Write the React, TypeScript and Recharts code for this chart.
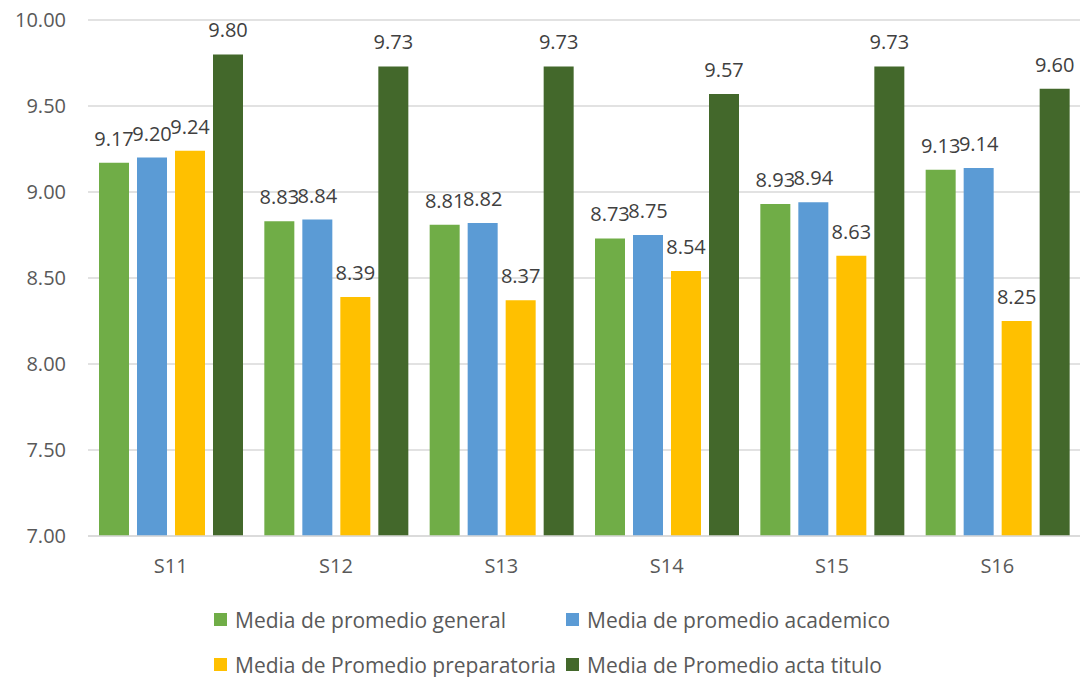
import React from "react";
import { BarChart, Bar, XAxis, YAxis, CartesianGrid, Legend, LabelList } from "recharts";

const categories = ["S11", "S12", "S13", "S14", "S15", "S16"];
const mediaGeneral = [9.17, 8.83, 8.81, 8.73, 8.93, 9.13];
const mediaAcademico = [9.2, 8.84, 8.82, 8.75, 8.94, 9.14];
const mediaPreparatoria = [9.24, 8.39, 8.37, 8.54, 8.63, 8.25];
const mediaActaTitulo = [9.8, 9.73, 9.73, 9.57, 9.73, 9.6];
const yTicks = [7, 7.5, 8, 8.5, 9, 9.5, 10];

const seriesNames = [
  "Media de promedio general",
  "Media de promedio academico",
  "Media de Promedio preparatoria",
  "Media de Promedio acta titulo",
];
const seriesKeys = ["general", "academico", "preparatoria", "acta"];
const colors = ["#70AD47", "#5B9BD5", "#FFC000", "#43682B"];

const data = categories.map((c, i) => ({
  name: c,
  general: mediaGeneral[i],
  academico: mediaAcademico[i],
  preparatoria: mediaPreparatoria[i],
  acta: mediaActaTitulo[i],
}));

const FONT = "'Open Sans', sans-serif";

const fmt = (v: any) => Number(v).toFixed(2);

const LegendContent = () => (
  <div
    style={{
      height: 91,
      boxSizing: "border-box",
      paddingTop: 11,
      paddingLeft: 214,
      display: "grid",
      gridTemplateColumns: "auto auto",
      justifyContent: "start",
      columnGap: 10,
      gridAutoRows: "45px",
      fontFamily: FONT,
      fontSize: 21,
      color: "#595959",
    }}
  >
    {seriesNames.map((n, i) => (
      <div key={n} style={{ display: "flex", alignItems: "center" }}>
        <span style={{ width: 13, height: 13, background: colors[i], marginRight: 8, display: "inline-block", flex: "none" }} />
        <span style={{ whiteSpace: "nowrap" }}>{n}</span>
      </div>
    ))}
  </div>
);

export default function App() {
  return (
    <div style={{ position: "absolute", left: 0, top: 0, width: 1086, height: 677, background: "#fff" }}>
      <BarChart
        width={1086}
        height={677}
        data={data}
        margin={{ top: 20, right: 6, left: 0, bottom: 0 }}
        barCategoryGap={11}
        barGap={8}
      >
        <CartesianGrid vertical={false} stroke="#D9D9D9" strokeWidth={1.5} />
        <XAxis
          dataKey="name"
          height={50}
          tickLine={false}
          tickSize={0}
          tickMargin={23}
          axisLine={{ stroke: "#D9D9D9", strokeWidth: 1.5 }}
          tick={{ fill: "#595959", fontSize: 20, fontFamily: FONT }}
        />
        <YAxis
          width={88}
          domain={[7, 10]}
          ticks={yTicks}
          tickFormatter={fmt}
          axisLine={false}
          tickLine={false}
          tickSize={0}
          tickMargin={22}
          tick={{ fill: "#595959", fontSize: 20, fontFamily: FONT }}
        />
        <Legend verticalAlign="bottom" content={<LegendContent />} />
        {seriesKeys.map((k, i) => (
          <Bar key={k} dataKey={k} name={seriesNames[i]} fill={colors[i]} isAnimationActive={false}>
            <LabelList
              dataKey={k}
              position="top"
              offset={17}
              formatter={fmt}
              style={{ fill: "#404040", fontSize: 20, fontFamily: FONT }}
            />
          </Bar>
        ))}
      </BarChart>
    </div>
  );
}
